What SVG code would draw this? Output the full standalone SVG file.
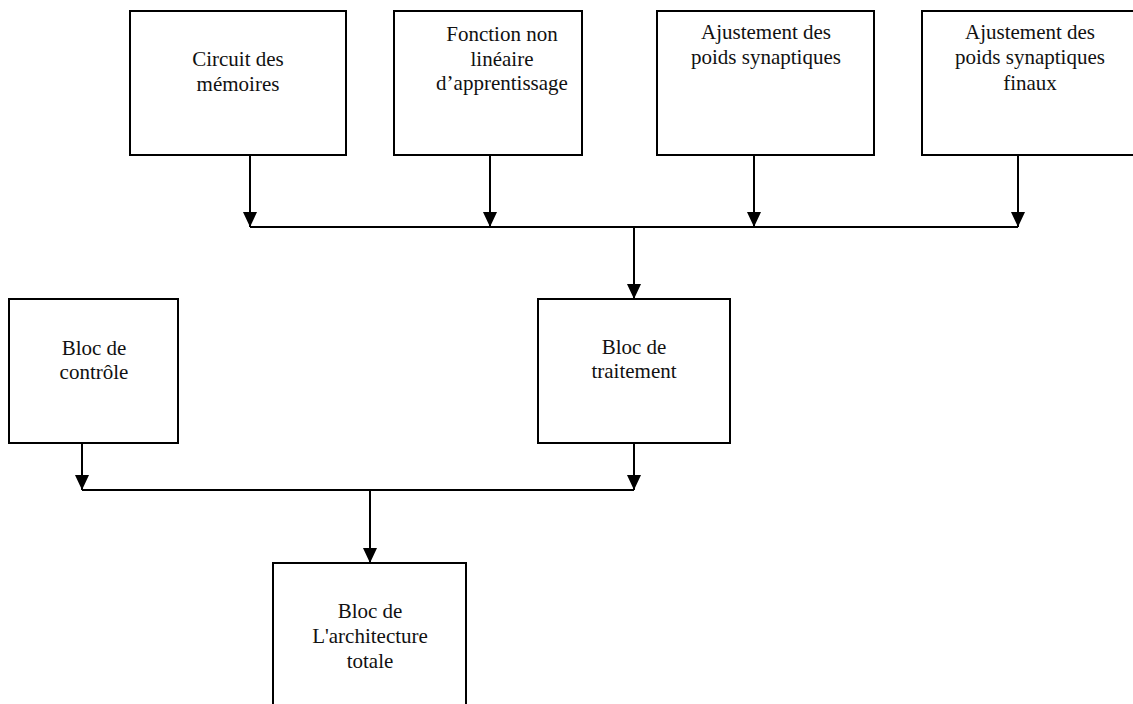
<svg xmlns="http://www.w3.org/2000/svg" width="1133" height="704" viewBox="0 0 1133 704">
  <style>
    .box { fill: #ffffff; stroke: #000000; stroke-width: 2; }
    .lbl { font-family: "Liberation Serif", "Times New Roman", serif; font-size: 21px; fill: #111111; text-anchor: middle; }
    .wire { fill: none; stroke: #000000; stroke-width: 2; }
  </style>
  <defs>
    <marker id="arrow" markerUnits="userSpaceOnUse" markerWidth="16" markerHeight="16" viewBox="0 0 16 16" refX="15" refY="8" orient="auto">
      <path d="M0,1 L15,8 L0,15 Z" fill="#000000"/>
    </marker>
  </defs>
  <rect width="1133" height="704" fill="#ffffff"/>

  <g id="node-memoires">
    <rect class="box" x="130" y="11" width="216" height="144"/>
    <text class="lbl" x="238" y="66">Circuit des</text>
    <text class="lbl" x="238" y="91">mémoires</text>
  </g>

  <g id="node-fonction">
    <rect class="box" x="394" y="11" width="188" height="144"/>
    <text class="lbl" x="502" y="41">Fonction non</text>
    <text class="lbl" x="502" y="66">linéaire</text>
    <text class="lbl" x="502" y="90">d’apprentissage</text>
  </g>

  <g id="node-ajustement">
    <rect class="box" x="657" y="11" width="217" height="144"/>
    <text class="lbl" x="766" y="39">Ajustement des</text>
    <text class="lbl" x="766" y="64">poids synaptiques</text>
  </g>

  <g id="node-ajustement-finaux">
    <rect class="box" x="922" y="11" width="220" height="144"/>
    <text class="lbl" x="1030" y="39">Ajustement des</text>
    <text class="lbl" x="1030" y="64">poids synaptiques</text>
    <text class="lbl" x="1030" y="90">finaux</text>
  </g>

  <g id="node-controle">
    <rect class="box" x="9" y="299" width="169" height="144"/>
    <text class="lbl" x="94" y="355">Bloc de</text>
    <text class="lbl" x="94" y="379">contrôle</text>
  </g>

  <g id="node-traitement">
    <rect class="box" x="538" y="299" width="192" height="144"/>
    <text class="lbl" x="634" y="354">Bloc de</text>
    <text class="lbl" x="634" y="378">traitement</text>
  </g>

  <g id="node-architecture">
    <rect class="box" x="273" y="563" width="193" height="160"/>
    <text class="lbl" x="370" y="618">Bloc de</text>
    <text class="lbl" x="370" y="643">L'architecture</text>
    <text class="lbl" x="370" y="668">totale</text>
  </g>

  <g id="connectors">
    <!-- upper bus -->
    <line class="wire" x1="250" y1="155" x2="250" y2="227" marker-end="url(#arrow)"/>
    <line class="wire" x1="490" y1="155" x2="490" y2="227" marker-end="url(#arrow)"/>
    <line class="wire" x1="754" y1="155" x2="754" y2="227" marker-end="url(#arrow)"/>
    <line class="wire" x1="1018" y1="155" x2="1018" y2="227" marker-end="url(#arrow)"/>
    <line class="wire" x1="250" y1="227" x2="1018" y2="227"/>
    <line class="wire" x1="634" y1="227" x2="634" y2="299" marker-end="url(#arrow)"/>
    <!-- lower bus -->
    <line class="wire" x1="82" y1="443" x2="82" y2="490" marker-end="url(#arrow)"/>
    <line class="wire" x1="634" y1="443" x2="634" y2="490" marker-end="url(#arrow)"/>
    <line class="wire" x1="82" y1="490" x2="634" y2="490"/>
    <line class="wire" x1="370" y1="490" x2="370" y2="563" marker-end="url(#arrow)"/>
  </g>
</svg>
